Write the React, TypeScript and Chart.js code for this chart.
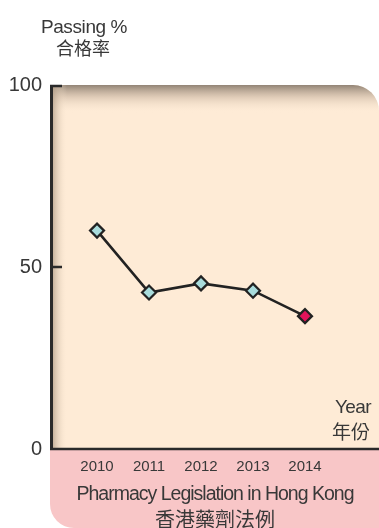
import React, { useEffect, useRef } from "react";
import { Chart, registerables } from "chart.js";

Chart.register(...registerables);

// Passing rate of the Pharmacy Legislation in Hong Kong examination
const years = [2010, 2011, 2012, 2013, 2014];
const passingRates = [60, 43, 45.5, 43.5, 36.5];
const yTicks = [0, 50, 100];
const pointFills = ["#a9dcdc", "#a9dcdc", "#a9dcdc", "#a9dcdc", "#e2135a"];

const yTitle = ["Passing %", "合格率"];
const xTitle = ["Year", "年份"];
const subjectTitle = ["Pharmacy Legislation in Hong Kong", "香港藥劑法例"];

const W = 379;
const H = 528;
const LATIN = '"Liberation Sans", Arial, sans-serif';
const CJK = '"Noto Sans CJK TC", "Noto Sans CJK SC", sans-serif';
const INK = "#383838";
const AXIS = "#2a2a2a";

function roundedPanel(ctx: CanvasRenderingContext2D, l: number, t: number, r: number, b: number, rad: number) {
  ctx.beginPath();
  ctx.moveTo(l, t);
  ctx.lineTo(r - rad, t);
  ctx.arcTo(r, t, r, t + rad, rad);
  ctx.lineTo(r, b);
  ctx.lineTo(l, b);
  ctx.closePath();
}

function spaced(ctx: CanvasRenderingContext2D, px: number) {
  (ctx as any).letterSpacing = `${px}px`;
}

const decor = {
  id: "decor",
  beforeDraw(chart: Chart) {
    const { ctx, chartArea } = chart;
    const { left, top, bottom } = chartArea;
    ctx.save();

    // pink band holding the subject name
    const pr = 24;
    ctx.fillStyle = "#f8c6c7";
    ctx.beginPath();
    ctx.moveTo(left - 1, bottom);
    ctx.lineTo(W, bottom);
    ctx.lineTo(W, H);
    ctx.lineTo(left - 1 + pr, H);
    ctx.arcTo(left - 1, H, left - 1, H - pr, pr);
    ctx.closePath();
    ctx.fill();

    // cream plot panel with soft shading along the top and left
    roundedPanel(ctx, left, top, W, bottom, 26);
    ctx.fillStyle = "#feebd6";
    ctx.fill();
    ctx.save();
    ctx.clip();
    const gTop = ctx.createLinearGradient(0, top, 0, top + 28);
    gTop.addColorStop(0, "rgba(140,126,112,0.95)");
    gTop.addColorStop(0.45, "rgba(190,170,150,0.45)");
    gTop.addColorStop(1, "rgba(254,235,214,0)");
    ctx.fillStyle = gTop;
    ctx.fillRect(left, top, W - left, 28);
    const gLeft = ctx.createLinearGradient(left, 0, left + 16, 0);
    gLeft.addColorStop(0, "rgba(170,150,128,0.85)");
    gLeft.addColorStop(1, "rgba(254,235,214,0)");
    ctx.fillStyle = gLeft;
    ctx.fillRect(left, top, 16, bottom - top);
    ctx.restore();

    ctx.restore();
  },
  afterDraw(chart: Chart) {
    const { ctx, chartArea, scales } = chart;
    const { left, top, bottom } = chartArea;
    const y = scales.y;
    ctx.save();

    // axes
    ctx.strokeStyle = AXIS;
    ctx.lineCap = "butt";
    ctx.lineWidth = 3;
    ctx.beginPath();
    ctx.moveTo(left + 0.5, top);
    ctx.lineTo(left + 0.5, bottom + 1);
    ctx.stroke();
    ctx.lineWidth = 2.5;
    ctx.beginPath();
    ctx.moveTo(left - 1, bottom);
    ctx.lineTo(W, bottom);
    ctx.stroke();
    for (const v of yTicks) {
      if (v === 0) continue;
      const py = y.getPixelForValue(v) + (v === 100 ? 1 : 0);
      ctx.beginPath();
      ctx.moveTo(left - 1, py);
      ctx.lineTo(left + 11, py);
      ctx.stroke();
    }

    ctx.fillStyle = INK;
    ctx.textBaseline = "alphabetic";

    ctx.textAlign = "center";
    ctx.font = `19px ${LATIN}`;
    spaced(ctx, -0.4);
    ctx.fillText(yTitle[0], 84, 33);
    spaced(ctx, 0);
    ctx.font = `18px ${CJK}`;
    ctx.fillText(yTitle[1], 83, 55);

    ctx.textAlign = "right";
    ctx.font = `19px ${LATIN}`;
    spaced(ctx, -0.6);
    ctx.fillText(xTitle[0], 371, 413);
    spaced(ctx, 0);
    ctx.font = `19px ${CJK}`;
    ctx.fillText(xTitle[1], 370, 439);

    ctx.textAlign = "center";
    ctx.font = `19.5px ${LATIN}`;
    spaced(ctx, -1);
    ctx.fillText(subjectTitle[0], 215, 500);
    spaced(ctx, 0);
    ctx.font = `20px ${CJK}`;
    ctx.fillText(subjectTitle[1], 215, 527);

    ctx.restore();
  },
};

export default function App() {
  const ref = useRef<HTMLCanvasElement | null>(null);

  useEffect(() => {
    document.body.style.margin = "0";
    const canvas = ref.current;
    if (!canvas) return;
    const chart = new Chart(canvas, {
      type: "line",
      data: {
        datasets: [
          {
            data: years.map((yr, i) => ({ x: yr, y: passingRates[i] })),
            borderColor: "#222222",
            borderWidth: 2.6,
            pointStyle: "rectRot",
            pointRadius: 7,
            pointBorderWidth: 2.2,
            pointBorderColor: "#222222",
            pointBackgroundColor: pointFills,
            tension: 0,
          },
        ],
      },
      options: {
        animation: false,
        responsive: false,
        devicePixelRatio: 1,
        layout: { autoPadding: false, padding: { top: 85, right: 0, left: 0, bottom: 0 } },
        plugins: { legend: { display: false }, tooltip: { enabled: false } },
        scales: {
          x: {
            type: "linear",
            min: 2009.115,
            max: 2015.423,
            afterBuildTicks: (scale: any) => {
              scale.ticks = years.map((v) => ({ value: v }));
            },
            afterFit: (scale: any) => {
              scale.height = H - 449;
            },
            grid: { display: false, drawTicks: false },
            border: { display: false },
            ticks: {
              color: INK,
              padding: 9,
              maxRotation: 0,
              autoSkip: false,
              font: { family: LATIN, size: 15 },
              callback: (v: any) => String(v),
            },
          },
          y: {
            min: 0,
            max: 100,
            afterBuildTicks: (scale: any) => {
              scale.ticks = yTicks.map((v) => ({ value: v }));
            },
            afterFit: (scale: any) => {
              scale.width = 51;
            },
            grid: { display: false, drawTicks: false },
            border: { display: false },
            ticks: {
              color: INK,
              padding: 9,
              font: { family: LATIN, size: 20 },
              callback: (v: any) => String(v),
            },
          },
        },
      },
      plugins: [decor],
    });
    return () => chart.destroy();
  }, []);

  return <canvas ref={ref} width={W} height={H} style={{ display: "block", width: W, height: H }} />;
}
